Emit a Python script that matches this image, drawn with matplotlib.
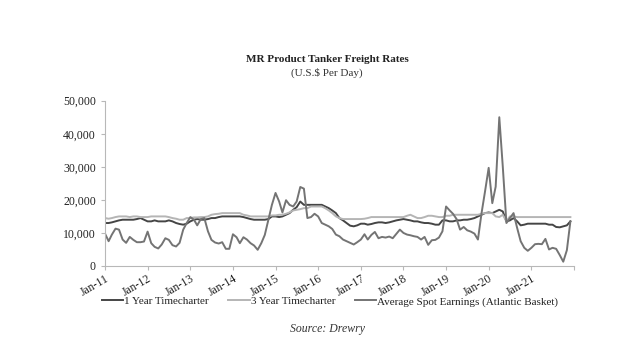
import numpy as np
import pandas as pd
import matplotlib
matplotlib.use("Agg")
import matplotlib.pyplot as plt
import matplotlib.dates as mdates

plt.rcParams['font.family'] = ['Liberation Serif', 'DejaVu Serif']

# monthly data Jan-11 .. Dec-21 (US$ per day)
dates = pd.date_range("2011-01-01", "2021-12-01", freq="MS")

one_year = [
    13000, 13000, 13200, 13500, 13800, 14000, 14000, 14000, 14000, 14200, 14500, 14000,  # 2011
    13500, 13500, 13800, 13500, 13500, 13500, 13800, 13500, 13000, 12700, 12500, 12800,  # 2012
    13500, 14000, 14200, 14000, 14000, 14200, 14500, 14500, 14800, 15000, 15000, 15000,  # 2013
    15000, 15000, 15000, 14800, 14500, 14200, 14000, 14000, 14000, 14000, 14200, 15000,  # 2014
    15000, 14800, 15000, 15500, 16000, 17000, 17800, 19500, 18500, 18500, 18500, 18500,  # 2015
    18500, 18500, 18000, 17500, 16800, 16000, 14500, 13800, 13000, 12200, 12000, 12300,  # 2016
    12800, 12800, 12500, 12700, 13000, 13200, 13200, 13000, 13200, 13500, 13800, 14000,  # 2017
    14200, 14000, 13800, 13500, 13500, 13200, 13000, 13000, 12800, 12500, 12500, 13800,  # 2018
    13800, 13500, 13500, 13800, 13800, 14000, 14000, 14200, 14500, 15000, 15500, 16000,  # 2019
    16200, 16000, 16500, 17000, 16500, 13500, 13800, 14500, 13500, 12300, 12500, 12800,  # 2020
    12800, 12800, 12800, 12800, 12800, 12500, 12500, 11800, 11700, 12000, 12300, 13500,  # 2021
]

three_year = [
    14500, 14300, 14500, 14800, 15000, 15000, 15000, 14800, 15000, 15000, 14800, 14800,
    14800, 15000, 15000, 15000, 15000, 15000, 14800, 14500, 14300, 14000, 14000, 14500,
    14500, 14700, 14700, 14800, 14800, 15000, 15500, 15700, 15800, 16000, 16000, 16000,
    16000, 16000, 16000, 15500, 15300, 15000, 15000, 15000, 15000, 15000, 15000, 15300,
    15300, 15500, 15500, 15800, 16200, 16800, 17000, 17200, 17500, 17500, 18000, 18000,
    18000, 18000, 17500, 16800, 16000, 15000, 14500, 14200, 14200, 14200, 14200, 14200,
    14200, 14300, 14500, 14800, 14800, 14800, 14800, 14800, 14800, 14800, 14800, 14800,
    14800, 15200, 15500, 15000, 14500, 14500, 14800, 15200, 15200, 15000, 14800, 14800,
    15200, 15200, 15500, 15500, 15500, 15500, 15500, 15500, 15500, 15500, 15800, 16000,
    16000, 16000, 15000, 14800, 15500, 13500, 15000, 15000, 14800, 14800, 14800, 14800,
    14800, 14800, 14800, 14800, 14800, 14800, 14800, 14800, 14800, 14800, 14800, 14800,
]

spot = [
    9800, 7500, 9500, 11300, 11000, 8000, 7000, 8800, 7900, 7200, 7200, 7400,
    10400, 6900, 5800, 5300, 6500, 8400, 7900, 6300, 5900, 7000, 11000, 13000,
    14800, 14000, 12300, 14200, 14500, 10500, 7900, 7100, 6800, 7200, 5200, 5200,
    9600, 8700, 6900, 8700, 8000, 6900, 6200, 4900, 6900, 9400, 14000, 18500,
    22100, 19500, 16200, 19900, 18500, 18000, 19500, 23900, 23400, 14500, 14800, 15800,
    15000, 13000, 12500, 12000, 11200, 9500, 9000, 8000, 7500, 7000, 6500, 7200,
    8000, 9600, 8000, 9400, 10300, 8400, 8800, 8600, 8900, 8400, 9700, 11000,
    10000, 9500, 9300, 9000, 8800, 8000, 8800, 6400, 7800, 7900, 8600, 10500,
    18000, 16800, 15800, 14200, 11000, 11800, 10800, 10400, 9800, 8000, 16000, 22600,
    29700, 19000, 24000, 45000, 30000, 13000, 14500, 16000, 11500, 7500, 5500, 4600,
    5500, 6600, 6700, 6600, 8200, 5000, 5500, 5200, 3300, 1300, 4800, 13500,
]

labels = ["1 Year Timecharter", "3 Year Timecharter",
          "Average Spot Earnings (Atlantic Basket)"]

fig = plt.figure(figsize=(6.4, 3.45), dpi=100)
ax = fig.add_axes([105/640, 1-266/345, (574-105)/640, (266-100.7)/345])

ax.plot(dates, one_year, color="#454545", lw=1.4, label=labels[0])
ax.plot(dates, three_year, color="#b5b5b5", lw=1.4, label=labels[1])
ax.plot(dates, spot, color="#747474", lw=1.4, label=labels[2])

ax.set_ylim(0, 50000)
ax.set_yticks(np.arange(0, 50001, 10000))
ax.yaxis.set_major_formatter(matplotlib.ticker.FuncFormatter(lambda v, p: f"{int(v):,}"))
ax.set_xlim(pd.Timestamp("2011-01-01"), pd.Timestamp("2022-01-01"))
xt = mdates.date2num(pd.date_range("2011-01-01", "2022-01-01", freq="YS"))
ax.set_xticks(xt)
ax.set_xticklabels([mdates.num2date(t).strftime("Jan-%y") if i < len(xt) - 1 else ""
                    for i, t in enumerate(xt)])
for lab in ax.get_xticklabels():
    lab.set_rotation(30)
    lab.set_ha("right")
    lab.set_rotation_mode("anchor")

for s in ["top", "right"]:
    ax.spines[s].set_visible(False)
for s in ["left", "bottom"]:
    ax.spines[s].set_color("#b8b8b8")
    ax.spines[s].set_linewidth(0.8)
ax.tick_params(axis="both", colors="#b8b8b8", labelcolor="#222222",
               labelsize=8.5, length=3, width=0.8)
ax.tick_params(axis="x", pad=2)

fig.text(327/640, 1-60/345, "MR Product Tanker Freight Rates", ha="center", va="center",
         fontsize=8, fontweight="bold", color="#222222")
fig.text(327/640, 1-72.5/345, "(U.S.$ Per Day)", ha="center", va="center",
         fontsize=8, color="#333333")

fig.legend(loc="center", bbox_to_anchor=(330/640, 1-301.5/345), ncol=3, frameon=False,
           fontsize=8, handlelength=1.9, handletextpad=0.1, columnspacing=1.8,
           labelcolor="#222222")

fig.text(327/640, 1-329/345, "Source: Drewry", ha="center", va="center",
         fontsize=8.5, style="italic", color="#333333")

fig.savefig("out.png", dpi=100)
